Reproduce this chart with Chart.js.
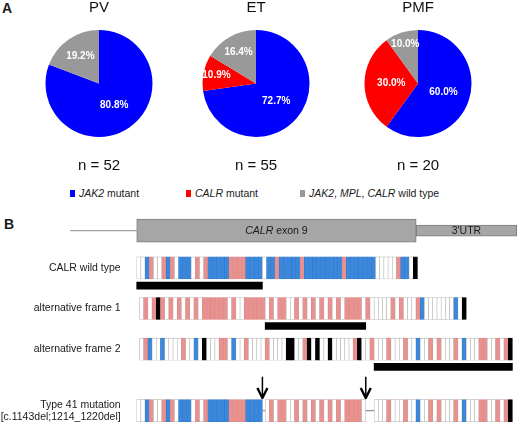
<!DOCTYPE html>
<html>
<head>
<meta charset="utf-8">
<script src="https://cdn.jsdelivr.net/npm/chart.js@4.4.1/dist/chart.umd.min.js"></script>
<style>
  html, body { margin: 0; padding: 0; background: #fff; }
  body { width: 520px; height: 426px; position: relative; overflow: hidden;
         font-family: "Liberation Sans", Arial, sans-serif; color: #1a1a1a; }
  canvas { position: absolute; }
  .panel { position: absolute; font-weight: bold; font-size: 14px; line-height: 16px; }
  .legend-item { position: absolute; top: 187px; height: 12px; display: flex; align-items: center;
                 font-size: 10.5px; white-space: nowrap; }
  .legend-item .box { display: inline-block; width: 5px; height: 7px; margin-right: 4px; }
</style>
</head>
<body>
<div class="panel" style="left:2px;top:0px">A</div>
<div class="panel" style="left:4px;top:216px">B</div>
<canvas id="pie0" width="150" height="173" style="left:24px;top:0"></canvas>
<canvas id="pie1" width="150" height="173" style="left:181px;top:0"></canvas>
<canvas id="pie2" width="150" height="173" style="left:343px;top:0"></canvas>
<canvas id="partB" width="520" height="226" style="left:0;top:200px"></canvas>
<script>
// ---- panel A data ----
var diseases = ['PV', 'ET', 'PMF'];
var jak2Counts = [42, 40, 12];
var calrCounts = [0, 6, 6];
var wildTypeCounts = [10, 9, 2];
var categories = ['JAK2 mutant', 'CALR mutant', 'JAK2, MPL, CALR wild type'];
var pieColours = ['#0000ff', '#ff0000', '#999999'];

// ---- panel B data (one letter per codon: W none, P pink, B blue, K stop) ----
var wildType = ['WWBPWWPBPW', 'BBBWPWP', 'BBBBB', 'PPPP', 'BBBB', 'WBBP', 'BBBBB', 'P',
    'BBBBBBBBB', 'P', 'BBBBBBB', 'WWWWW', 'PBBWK'].join('').split('');
var altFrame1 = ['WPWPKPWPWPWPWPW', 'PPPPPP', 'WPWW', 'PPPPP', 'WPWPPWWPWPWPWPWPWPW', 'PPPP',
    'WP', 'WWWWW', 'PWP', 'WWW', 'PB', 'WWWWWWW', 'BWK'].join('').split('');
var altFrame2 = ['WPBWWB', 'WWWW', 'PWWBWK', 'WWW', 'PPWBWWP', 'WWWW', 'P', 'WWWW', 'KKWWPKWKWWK',
    'WWWWW', 'PKWWP', 'WWW', 'P', 'WWW', 'PWWBWWPWP', 'WWW', 'PWB', 'WWW', 'PPWWPWPK'].join('').split('');
var trackNames = ['CALR wild type', 'alternative frame 1', 'alternative frame 2',
    ['Type 41 mutation', '[c.1143del;1214_1220del]']];
// frame shift of each track, in codons
var frameOffsets = [0, 2 / 3, 2 / 3];
// open reading frame of each track [first codon, end codon]; type 41 joins them
var orfSpans = [[0, 30], [30, 54], [56, 89]];
// gene structure along the same codon axis
var geneParts = [
    { name: '', from: -15.9, to: 0 },
    { name: 'CALR exon 9', from: 0, to: 66.7 },
    { name: "3'UTR", from: 66.7, to: 90.7 }
];

var cellColours = { W: '#ffffff', P: '#e8918f', B: '#3a87dc', K: '#000000' };
var cellBorders = { W: '#b3b3b3', P: '#dc8886', B: '#3479c9', K: '#000000' };

// layout rows, in pixels from the top of the panel B canvas
var rowY = { gene: 30.7, tracks: [67.9, 108.5, 149.2, 210.7], orfs: [85.7, 126, 166.8],
             arrowTop: 176.7, arrowTip: 199 };

Chart.defaults.font.family = '"Liberation Sans", Arial, sans-serif';
Chart.defaults.color = '#1a1a1a';

// ---- panel A ----
var percentLabels = {
    id: 'percentLabels',
    afterDatasetsDraw: function(chart) {
        var ctx = chart.ctx;
        var data = chart.data.datasets[0].data;
        var total = data.reduce(function(a, b) { return a + b; }, 0);
        ctx.save();
        ctx.fillStyle = '#ffffff';
        ctx.font = 'bold 10px "Liberation Sans", Arial, sans-serif';
        ctx.textAlign = 'center';
        ctx.textBaseline = 'middle';
        chart.getDatasetMeta(0).data.forEach(function(arc, i) {
            if (!data[i]) return;
            var pct = data[i] / total * 100;
            var p = arc.getProps(['x', 'y', 'startAngle', 'endAngle', 'outerRadius'], true);
            var mid = (p.startAngle + p.endAngle) / 2;
            var f = pct >= 30 ? 0.5 : 0.6 + (20 - pct) * 0.017;
            ctx.fillText(pct.toFixed(1) + '%', p.x + Math.cos(mid) * p.outerRadius * f,
                p.y + Math.sin(mid) * p.outerRadius * f);
        });
        ctx.restore();
    }
};

diseases.forEach(function(name, i) {
    var counts = [jak2Counts[i], calrCounts[i], wildTypeCounts[i]];
    var n = counts.reduce(function(a, b) { return a + b; }, 0);
    new Chart(document.getElementById('pie' + i), {
        type: 'pie',
        data: {
            labels: categories,
            datasets: [{ data: counts, backgroundColor: pieColours, borderWidth: 0,
                         hoverOffset: 0, radius: 53.5 }]
        },
        options: {
            responsive: false,
            animation: false,
            events: [],
            layout: { padding: 0 },
            plugins: {
                legend: { display: false },
                tooltip: { enabled: false },
                title: { display: true, text: name, color: '#111',
                         font: { size: 15, weight: 'normal', lineHeight: 1 },
                         padding: { top: 0, bottom: 15 } },
                subtitle: { display: true, text: 'n = ' + n, position: 'bottom', color: '#111',
                            font: { size: 15, weight: 'normal', lineHeight: 1 },
                            padding: { top: 21, bottom: 0 } }
            }
        },
        plugins: [percentLabels]
    });
});

var legendLeft = [70, 186, 300];
categories.forEach(function(name, i) {
    var item = document.createElement('div');
    item.className = 'legend-item';
    item.style.left = legendLeft[i] + 'px';
    item.innerHTML = '<span class="box" style="background:' + pieColours[i] + '"></span><span>' +
        name.replace(/(JAK2|MPL|CALR)/g, '<i>$1</i>') + '</span>';
    document.body.appendChild(item);
});

// ---- panel B ----
var tracks = [wildType, altFrame1, altFrame2];
var cells = [];
tracks.forEach(function(codons, t) {
    codons.forEach(function(code, i) {
        cells.push({ x: [frameOffsets[t] + i, frameOffsets[t] + i + 1], y: rowY.tracks[t], code: code });
    });
});
var type41Pieces = orfSpans.map(function(span, t) {
    return { from: frameOffsets[t] + span[0], to: frameOffsets[t] + span[1] };
});
orfSpans.forEach(function(span, t) {
    for (var i = span[0]; i < span[1]; i++) {
        var start = frameOffsets[t] + i;
        cells.push({ x: [start, start + 1], y: rowY.tracks[3], code: tracks[t][i] });
    }
});
var orfBars = orfSpans.map(function(span, t) {
    return { x: [frameOffsets[t] + span[0], frameOffsets[t] + span[1]], y: rowY.orfs[t] };
});
var mutationSites = type41Pieces.slice(0, 2).map(function(p) { return p.to; });
var gapLines = mutationSites.map(function(site, k) {
    return {
        type: 'line',
        data: [{ x: site, y: rowY.tracks[3] }, { x: type41Pieces[k + 1].from, y: rowY.tracks[3] }],
        yAxisID: 'y', borderColor: '#7a7a7a', borderWidth: 1, pointRadius: 0
    };
});

var hiddenAxis = function() {
    return { type: 'linear', display: false, min: 0, max: 226, reverse: true, offset: false };
};

var geneLabels = {
    id: 'geneLabels',
    afterDatasetsDraw: function(chart) {
        var ctx = chart.ctx, x = chart.scales.x, y = chart.scales.y;
        var gy = y.getPixelForValue(rowY.gene);
        ctx.save();
        ctx.fillStyle = '#1a1a1a';
        ctx.textBaseline = 'middle';
        ctx.textAlign = 'left';
        geneParts.forEach(function(part) {
            if (!part.name) return;
            var cx = x.getPixelForValue((part.from + part.to) / 2);
            var m = part.name.match(/^(CALR)(.*)$/);
            var it = m ? m[1] : '', rest = m ? m[2] : part.name;
            ctx.font = 'italic 10.5px "Liberation Sans", Arial, sans-serif';
            var w1 = ctx.measureText(it).width;
            ctx.font = '10.5px "Liberation Sans", Arial, sans-serif';
            var w2 = ctx.measureText(rest).width;
            var left = cx - (w1 + w2) / 2;
            ctx.font = 'italic 10.5px "Liberation Sans", Arial, sans-serif';
            ctx.fillText(it, left, gy);
            ctx.font = '10.5px "Liberation Sans", Arial, sans-serif';
            ctx.fillText(rest, left + w1, gy);
        });
        // track names, right aligned just left of the tracks
        ctx.textAlign = 'right';
        ctx.font = '10.5px "Liberation Sans", Arial, sans-serif';
        var labelRight = x.getPixelForValue(0) - 16;
        trackNames.forEach(function(name, t) {
            var lines = [].concat(name);
            var cy = y.getPixelForValue(rowY.tracks[t]);
            lines.forEach(function(line, k) {
                ctx.fillText(line, labelRight, cy + (k - (lines.length - 1) / 2) * 12);
            });
        });
        var top = y.getPixelForValue(rowY.arrowTop), tip = y.getPixelForValue(rowY.arrowTip);
        ctx.strokeStyle = '#000';
        mutationSites.forEach(function(site) {
            var px = x.getPixelForValue(site);
            ctx.lineWidth = 1.5;
            ctx.beginPath(); ctx.moveTo(px, top); ctx.lineTo(px, tip - 2); ctx.stroke();
            ctx.lineWidth = 2.4;
            ctx.lineJoin = 'round';
            ctx.beginPath(); ctx.moveTo(px - 5, tip - 11); ctx.lineTo(px, tip - 1); ctx.lineTo(px + 5, tip - 11); ctx.stroke();
        });
        ctx.restore();
    }
};

new Chart(document.getElementById('partB'), {
    type: 'bar',
    data: {
        datasets: [
            { type: 'line', data: [{ x: geneParts[0].from, y: rowY.gene }, { x: geneParts[0].to, y: rowY.gene }],
              yAxisID: 'y', borderColor: '#8a8a8a', borderWidth: 1, pointRadius: 0 }
        ].concat(gapLines, [
            { indexAxis: 'y', yAxisID: 'yExon', barThickness: 23,
              data: [{ x: [geneParts[1].from, geneParts[1].to], y: rowY.gene }],
              backgroundColor: '#a6a6a6', borderColor: '#7d7d7d', borderWidth: 1, borderSkipped: false },
            { indexAxis: 'y', yAxisID: 'yUtr', barThickness: 11,
              data: [{ x: [geneParts[2].from, geneParts[2].to], y: rowY.gene }],
              backgroundColor: '#a6a6a6', borderColor: '#7d7d7d', borderWidth: 1, borderSkipped: false },
            { indexAxis: 'y', yAxisID: 'y', barThickness: 22, data: cells,
              backgroundColor: function(c) { return c.raw ? cellColours[c.raw.code] : '#fff'; },
              borderColor: function(c) { return c.raw ? cellBorders[c.raw.code] : '#aaa'; },
              borderWidth: 0.6, borderSkipped: false },
            { indexAxis: 'y', yAxisID: 'yOrf', barThickness: 7, data: orfBars,
              backgroundColor: '#000000', borderWidth: 0 }
        ])
    },
    options: {
        responsive: false,
        animation: false,
        events: [],
        layout: { padding: 0, autoPadding: false },
        plugins: { legend: { display: false }, tooltip: { enabled: false } },
        scales: {
            x: { type: 'linear', display: false, min: -32.63, max: 91.48, offset: false },
            y: hiddenAxis(),
            yExon: hiddenAxis(),
            yUtr: hiddenAxis(),
            yOrf: hiddenAxis()
        }
    },
    plugins: [geneLabels]
});
</script>
</body>
</html>
